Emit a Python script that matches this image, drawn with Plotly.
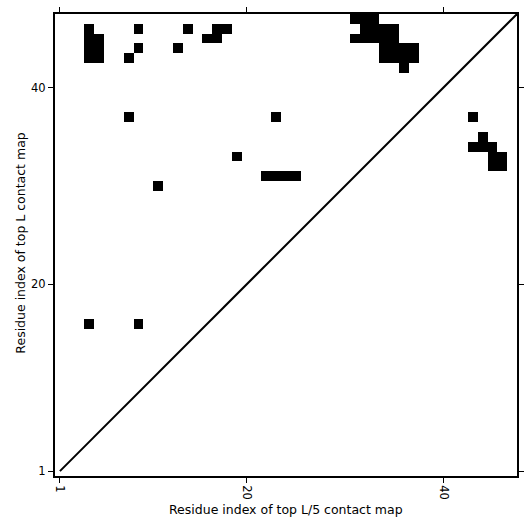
import plotly.graph_objects as go

# Sequence length and residue indices
L = 47
residues = list(range(1, L + 1))

# Contacts (x = residue index on L/5 axis, y = residue index on L axis)
contact_x = [4, 4, 4, 4, 5, 5, 5,
             9, 14, 17, 18, 16, 17,
             9, 13, 8,
             8, 23, 19, 22, 23, 24, 25, 11,
             4, 9,
             31, 32, 33,
             32, 33, 34, 35,
             31, 32, 33, 34, 35,
             34, 35, 36, 37,
             34, 35, 36, 37,
             36,
             43, 44, 43, 44, 45, 45, 46, 45, 46]
contact_y = [46, 45, 44, 43, 45, 44, 43,
             46, 46, 46, 46, 45, 45,
             44, 44, 43,
             37, 37, 33, 31, 31, 31, 31, 30,
             16, 16,
             47, 47, 47,
             46, 46, 46, 46,
             45, 45, 45, 45, 45,
             44, 44, 44, 44,
             43, 43, 43, 43,
             42,
             37, 35, 34, 34, 34, 33, 33, 32, 32]

tick_vals = [1, 20, 40]
tick_text = ["1", "20", "40"]
x_title = "Residue index of top L/5 contact map"
y_title = "Residue index of top L contact map"

# Build matrix
z = [[None for _ in residues] for _ in residues]
for cx, cy in zip(contact_x, contact_y):
    z[cy - 1][cx - 1] = 1

fig = go.Figure()
fig.add_trace(go.Heatmap(
    x=residues, y=residues, z=z,
    colorscale=[[0, "black"], [1, "black"]],
    showscale=False, hoverinfo="skip", xgap=0, ygap=0,
))
lo, hi = residues[0] - 0.5, residues[-1] + 0.5
fig.add_trace(go.Scatter(
    x=[residues[0], hi], y=[residues[0], hi], mode="lines",
    line=dict(color="black", width=2), hoverinfo="skip", showlegend=False,
))

FONT = dict(family="DejaVu Sans", size=12.5, color="black")
TICKFONT = dict(family="DejaVu Sans", size=11.5, color="black")
axis_common = dict(
    range=[lo, hi], tickvals=tick_vals, ticktext=tick_text,
    ticks="outside", ticklen=5, tickwidth=1, tickcolor="black",
    showline=True, linewidth=2, linecolor="black", mirror="ticks",
    showgrid=False, zeroline=False, automargin=False,
    tickfont=TICKFONT,
)
fig.update_xaxes(**axis_common, tickangle=90)
fig.update_yaxes(**axis_common)

fig.add_annotation(text=x_title, xref="paper", yref="paper", x=0.5, y=-0.0725,
                   xanchor="center", yanchor="middle", showarrow=False, font=FONT)
fig.add_annotation(text=y_title, xref="paper", yref="paper", x=-0.0736, y=0.505,
                   xanchor="center", yanchor="middle", textangle=-90,
                   showarrow=False, font=FONT)

fig.update_layout(
    width=531, height=531,
    margin=dict(l=55, r=14, t=14, b=55),
    plot_bgcolor="white", paper_bgcolor="white",
    showlegend=False,
    font=FONT,
)

fig.write_html("out.html", config={"displayModeBar": False})

# remove default page margin so the figure sits at the window's corner
with open("out.html", "r", encoding="utf-8") as f:
    html = f.read()
html = html.replace("<body>", '<body style="margin:0;overflow:hidden">', 1)
with open("out.html", "w", encoding="utf-8") as f:
    f.write(html)
